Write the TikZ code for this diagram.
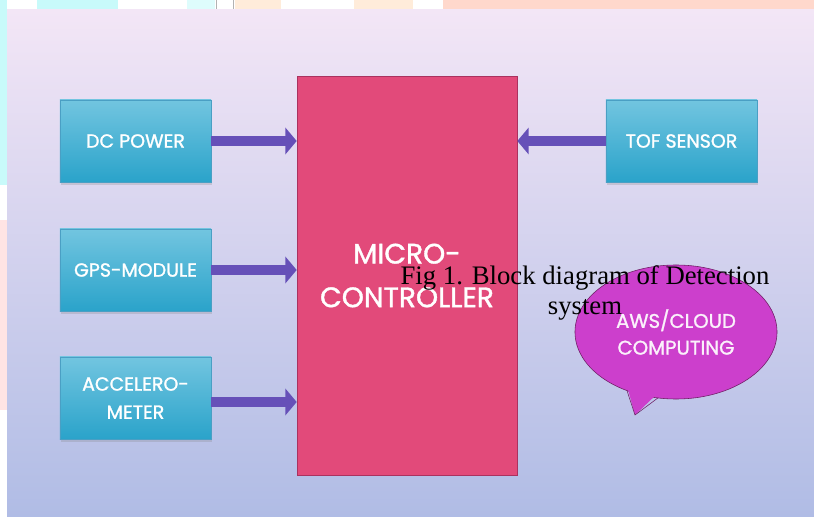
\documentclass[tikz,border=0pt]{standalone}
\usepackage{fontspec}
\setmainfont{Poppins}[FakeBold=1.3]
\newfontfamily\capfont{Liberation Serif}
\usetikzlibrary{arrows.meta,shapes.geometric,shadows}
\definecolor{lilac}{RGB}{243, 230, 246}
\definecolor{haze}{RGB}{222, 216, 240}
\definecolor{periwinkle}{RGB}{176, 188, 229}
\definecolor{skyblue}{RGB}{114, 197, 224}
\definecolor{cerulean}{RGB}{42, 163, 202}
\definecolor{blockedge}{RGB}{74, 159, 196}
\definecolor{raspberry}{RGB}{226, 74, 122}
\definecolor{raspedge}{RGB}{170, 50, 95}
\definecolor{amethyst}{RGB}{102, 80, 184}
\definecolor{orchid}{RGB}{204, 63, 204}
\definecolor{plum}{RGB}{110, 30, 100}
\definecolor{icecyan}{RGB}{200, 250, 250}
\definecolor{peach}{RGB}{255, 236, 218}
\definecolor{salmon}{RGB}{255, 216, 204}
\definecolor{blush}{RGB}{255, 228, 228}

\begin{document}
\begin{tikzpicture}[x=0.025cm, y=-0.025cm,
    block/.style={draw=blockedge, top color=skyblue, bottom color=cerulean,
        minimum width=3.775cm, minimum height=2.05cm, inner sep=0pt,
        text=white, align=center, font=\fontsize{13.5}{20}\selectfont,
        drop shadow={shadow xshift=0.5pt, shadow yshift=-2pt, opacity=0.25}},
    feed/.style={amethyst, line width=7pt, -{Triangle[length=2.8mm, width=6.5mm]}}]
    \useasboundingbox (0,0) rectangle (814,517);
    % page strip behind the slide
    \fill[white]     (0,0)   rectangle (814,517);
    \fill[icecyan]   (0,0)   rectangle (7,185);
    \fill[icecyan]   (37,0)  rectangle (118,10);
    \fill[icecyan!60](187,0) rectangle (215,10);
    \draw[gray!60]   (216,0) -- (216,10);
    \draw[gray!60]   (233,0) -- (233,10);
    \fill[peach]     (235,0) rectangle (281,10);
    \fill[peach]     (354,0) rectangle (413,10);
    \fill[salmon]    (443,0) rectangle (814,10);
    \fill[blush]     (0,220) rectangle (7,410);
    % slide background
    \shade[top color=lilac, middle color=haze, bottom color=periwinkle] (7,10) rectangle (814,517);

    \node[draw=raspedge, fill=raspberry, minimum width=5.5cm, minimum height=9.975cm,
          text=white, align=center, font=\fontsize{20}{31}\selectfont] (mcu) at (407,275.5) {MICRO-\\CONTROLLER};

    \node[block] (dc)  at (135.5,141) {DC POWER};
    \node[block] (gps) at (135.5,270) {GPS-MODULE};
    \node[block] (acc) at (135.5,398) {ACCELERO-\\METER};
    \node[block] (tof) at (681.5,141) {TOF SENSOR};

    \draw[feed] (dc.east)  -- (dc.east -| mcu.west);
    \draw[feed] (gps.east) -- (gps.east -| mcu.west);
    \draw[feed] ([yshift=-0.1cm]acc.east) -- ([yshift=-0.1cm]acc.east -| mcu.west);
    \draw[feed] (tof.west) -- (tof.west -| mcu.east);

    % speech bubble
    \node[ellipse, draw=plum, fill=orchid, minimum width=5.05cm, minimum height=3.35cm,
          text=white!92!orchid, align=center, font=\fontsize{14}{19}\selectfont] (cloud) at (676,332) {AWS/CLOUD\\COMPUTING};
    \coordinate (tip) at (635,415);
    \fill[orchid] (627,386) -- (tip) -- (658,393) -- cycle;
    \draw[plum] (627,390.6) -- (tip) -- (658,397.9);

    \node[align=center, inner sep=0pt, font=\capfont\fontsize{19}{21.3}\selectfont] (caption) at (585,293)
        {Fig 1. Block diagram of Detection\\system};
\end{tikzpicture}
\end{document}
